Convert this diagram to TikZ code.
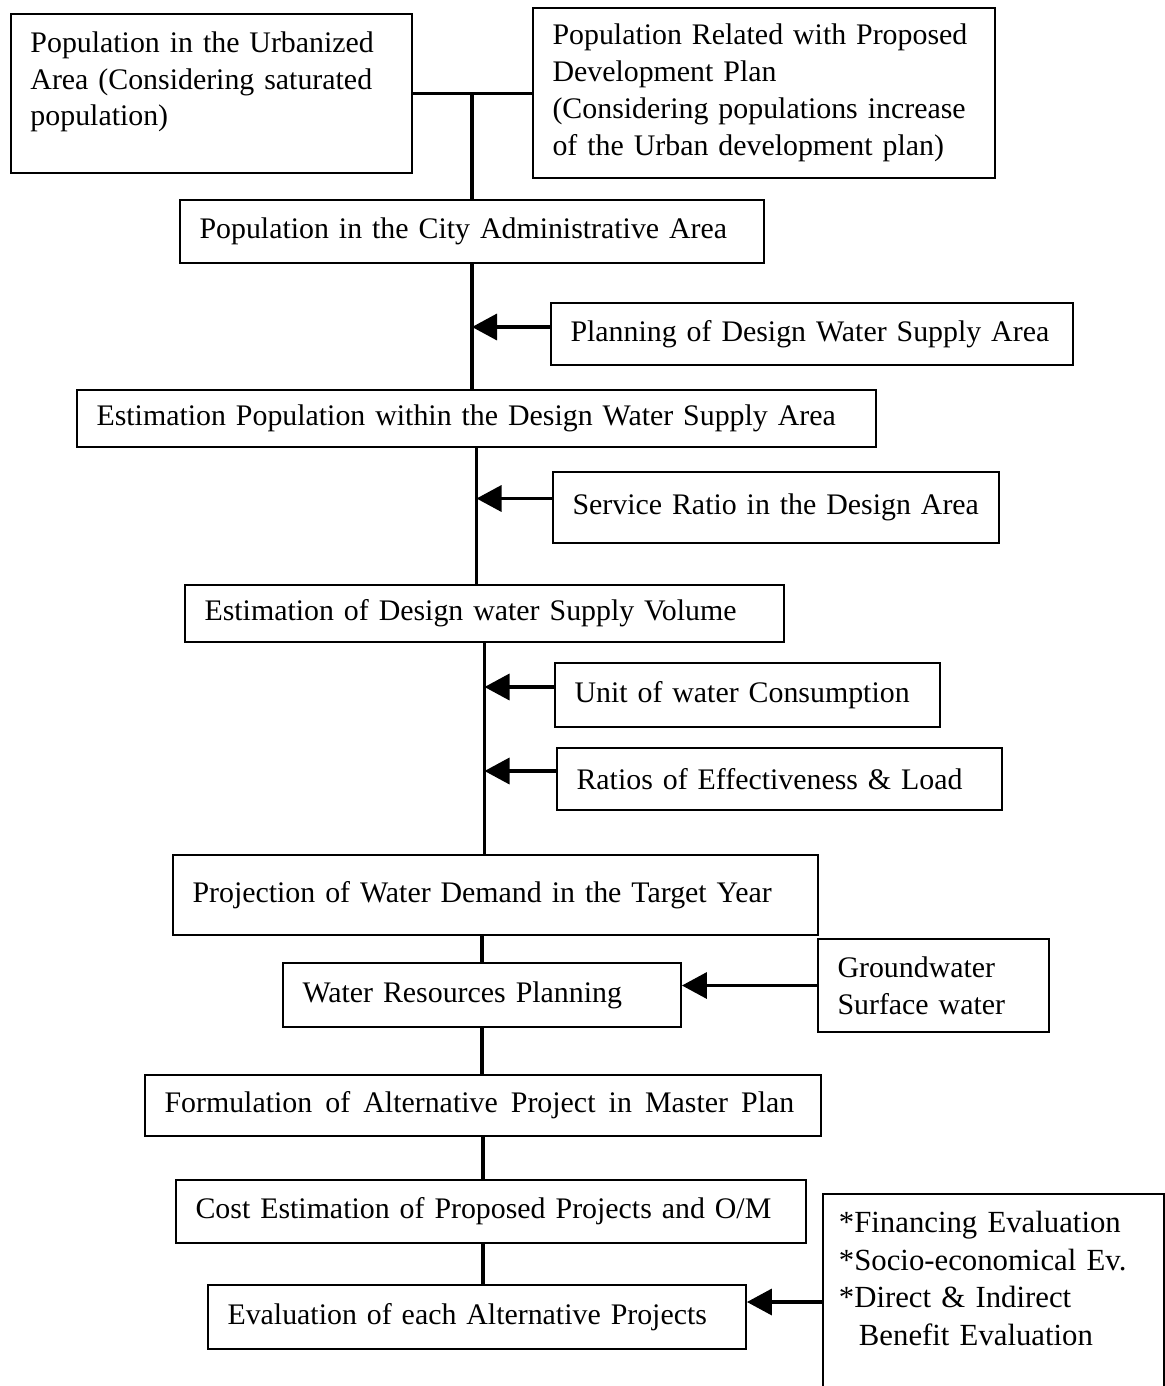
\documentclass[tikz,border=0pt]{standalone}
\usepackage{fontspec}
\setmainfont{Liberation Serif}
\usetikzlibrary{arrows.meta}

\tikzset{
	box/.style={draw, line width=1.1pt, align=left, inner xsep=0.39cm, text width=#1-0.78cm, font=\fontsize{17}{21}\selectfont},
	link/.style={line width=2pt},
	feed/.style={line width=2pt, -{Triangle[length=0.5cm,width=0.52cm]}}
}

\begin{document}
\begin{tikzpicture}[x=0.02cm, y=-0.02cm]
	\useasboundingbox (0,0) rectangle (1165,1386);
	% population sources
	\node[box=8.02cm, anchor=north west, inner ysep=0.35cm, text depth=2.07cm] (urban) at (10,13) {Population in the Urbanized\\Area (Considering saturated\\population)};
	\node[box=9.24cm, minimum height=3.4cm] (related) at (764,93) {Population Related with Proposed\\Development Plan\\(Considering populations increase\\of the Urban development plan)};
	\node[box=11.68cm, minimum height=1.26cm] (city) at (472,231.5) {Population in the City Administrative Area};
	\node[box=10.44cm, minimum height=1.24cm] (area) at (812,334) {Planning of Design Water Supply Area};
	\node[box=15.98cm, minimum height=1.14cm] (estpop) at (476.5,418.5) {Estimation Population within the Design Water Supply Area};
	\node[box=8.92cm, minimum height=1.42cm] (service) at (776,507.5) {Service Ratio in the Design Area};
	\node[box=11.98cm, minimum height=1.14cm] (volume) at (484.5,613.5) {Estimation of Design water Supply Volume};
	\node[box=7.7cm, minimum height=1.28cm] (unit) at (747.5,695) {Unit of water Consumption};
	\node[box=8.9cm, minimum height=1.24cm] (ratios) at (779.5,779) {Ratios of Effectiveness \& Load};
	\node[box=12.9cm, minimum height=1.6cm] (demand) at (495.5,895) {Projection of Water Demand in the Target Year};
	\node[box=7.96cm, minimum height=1.28cm] (resources) at (482,995) {Water Resources Planning};
	\node[box=4.62cm, minimum height=1.86cm] (sources) at (933.5,985.5) {Groundwater\\Surface water};
	\node[box=13.52cm, minimum height=1.22cm] (formul) at (483,1105.5) {\spaceskip=0.44em Formulation of Alternative Project in Master Plan};
	\node[box=12.6cm, minimum height=1.26cm] (cost) at (491,1211.5) {Cost Estimation of Proposed Projects and O/M};
	\node[box=10.76cm, minimum height=1.28cm] (evalu) at (477,1317) {Evaluation of each Alternative Projects};
	\node[box=6.78cm, draw=none, anchor=north west, inner xsep=0.3cm, text width=6.18cm, inner ysep=0.33cm, text depth=2.77cm, font=\fontsize{17.5}{21.3}\selectfont] (criteria) at (823,1194) {*Financing Evaluation\\{}*Socio-economical Ev.\\{}*Direct \& Indirect\\\hspace*{0.4cm}Benefit Evaluation};
	\draw[line width=1.1pt] (criteria.south west) -- (criteria.north west) -- (criteria.north east) -- (criteria.south east);

	% main line
	\draw[link] (urban.east) -- (urban.east -| related.west);
	\draw[link] (city.north) -- (city.north |- urban.east);
	\draw[link] (city.south) -- (city.south |- estpop.north);
	\draw[link] (estpop.south) -- (estpop.south |- volume.north);
	\draw[link] (volume.south) -- (volume.south |- demand.north);
	\draw[link] (resources.north |- demand.south) -- (resources.north);
	\draw[link] (resources.south) -- (resources.south |- formul.north);
	\draw[link] (formul.south) -- (formul.south |- cost.north);
	\draw[link] (formul.south |- cost.south) -- (formul.south |- evalu.north);

	% inputs
	\draw[feed] ([yshift=0.14cm]area.west) -- ([yshift=0.14cm]area.west -| city.south);
	\draw[feed] ([yshift=0.18cm]service.west) -- ([yshift=0.18cm]service.west -| estpop.south);
	\draw[feed] ([yshift=0.16cm]unit.west) -- ([yshift=0.16cm]unit.west -| volume.south);
	\draw[feed] ([yshift=0.16cm]ratios.west) -- ([yshift=0.16cm]ratios.west -| volume.south);
	\draw[feed] (sources.west) -- (sources.west -| resources.east);
	\draw[feed] ([yshift=0.3cm]criteria.west |- evalu.east) -- ([yshift=0.3cm]evalu.east);
\end{tikzpicture}
\end{document}
